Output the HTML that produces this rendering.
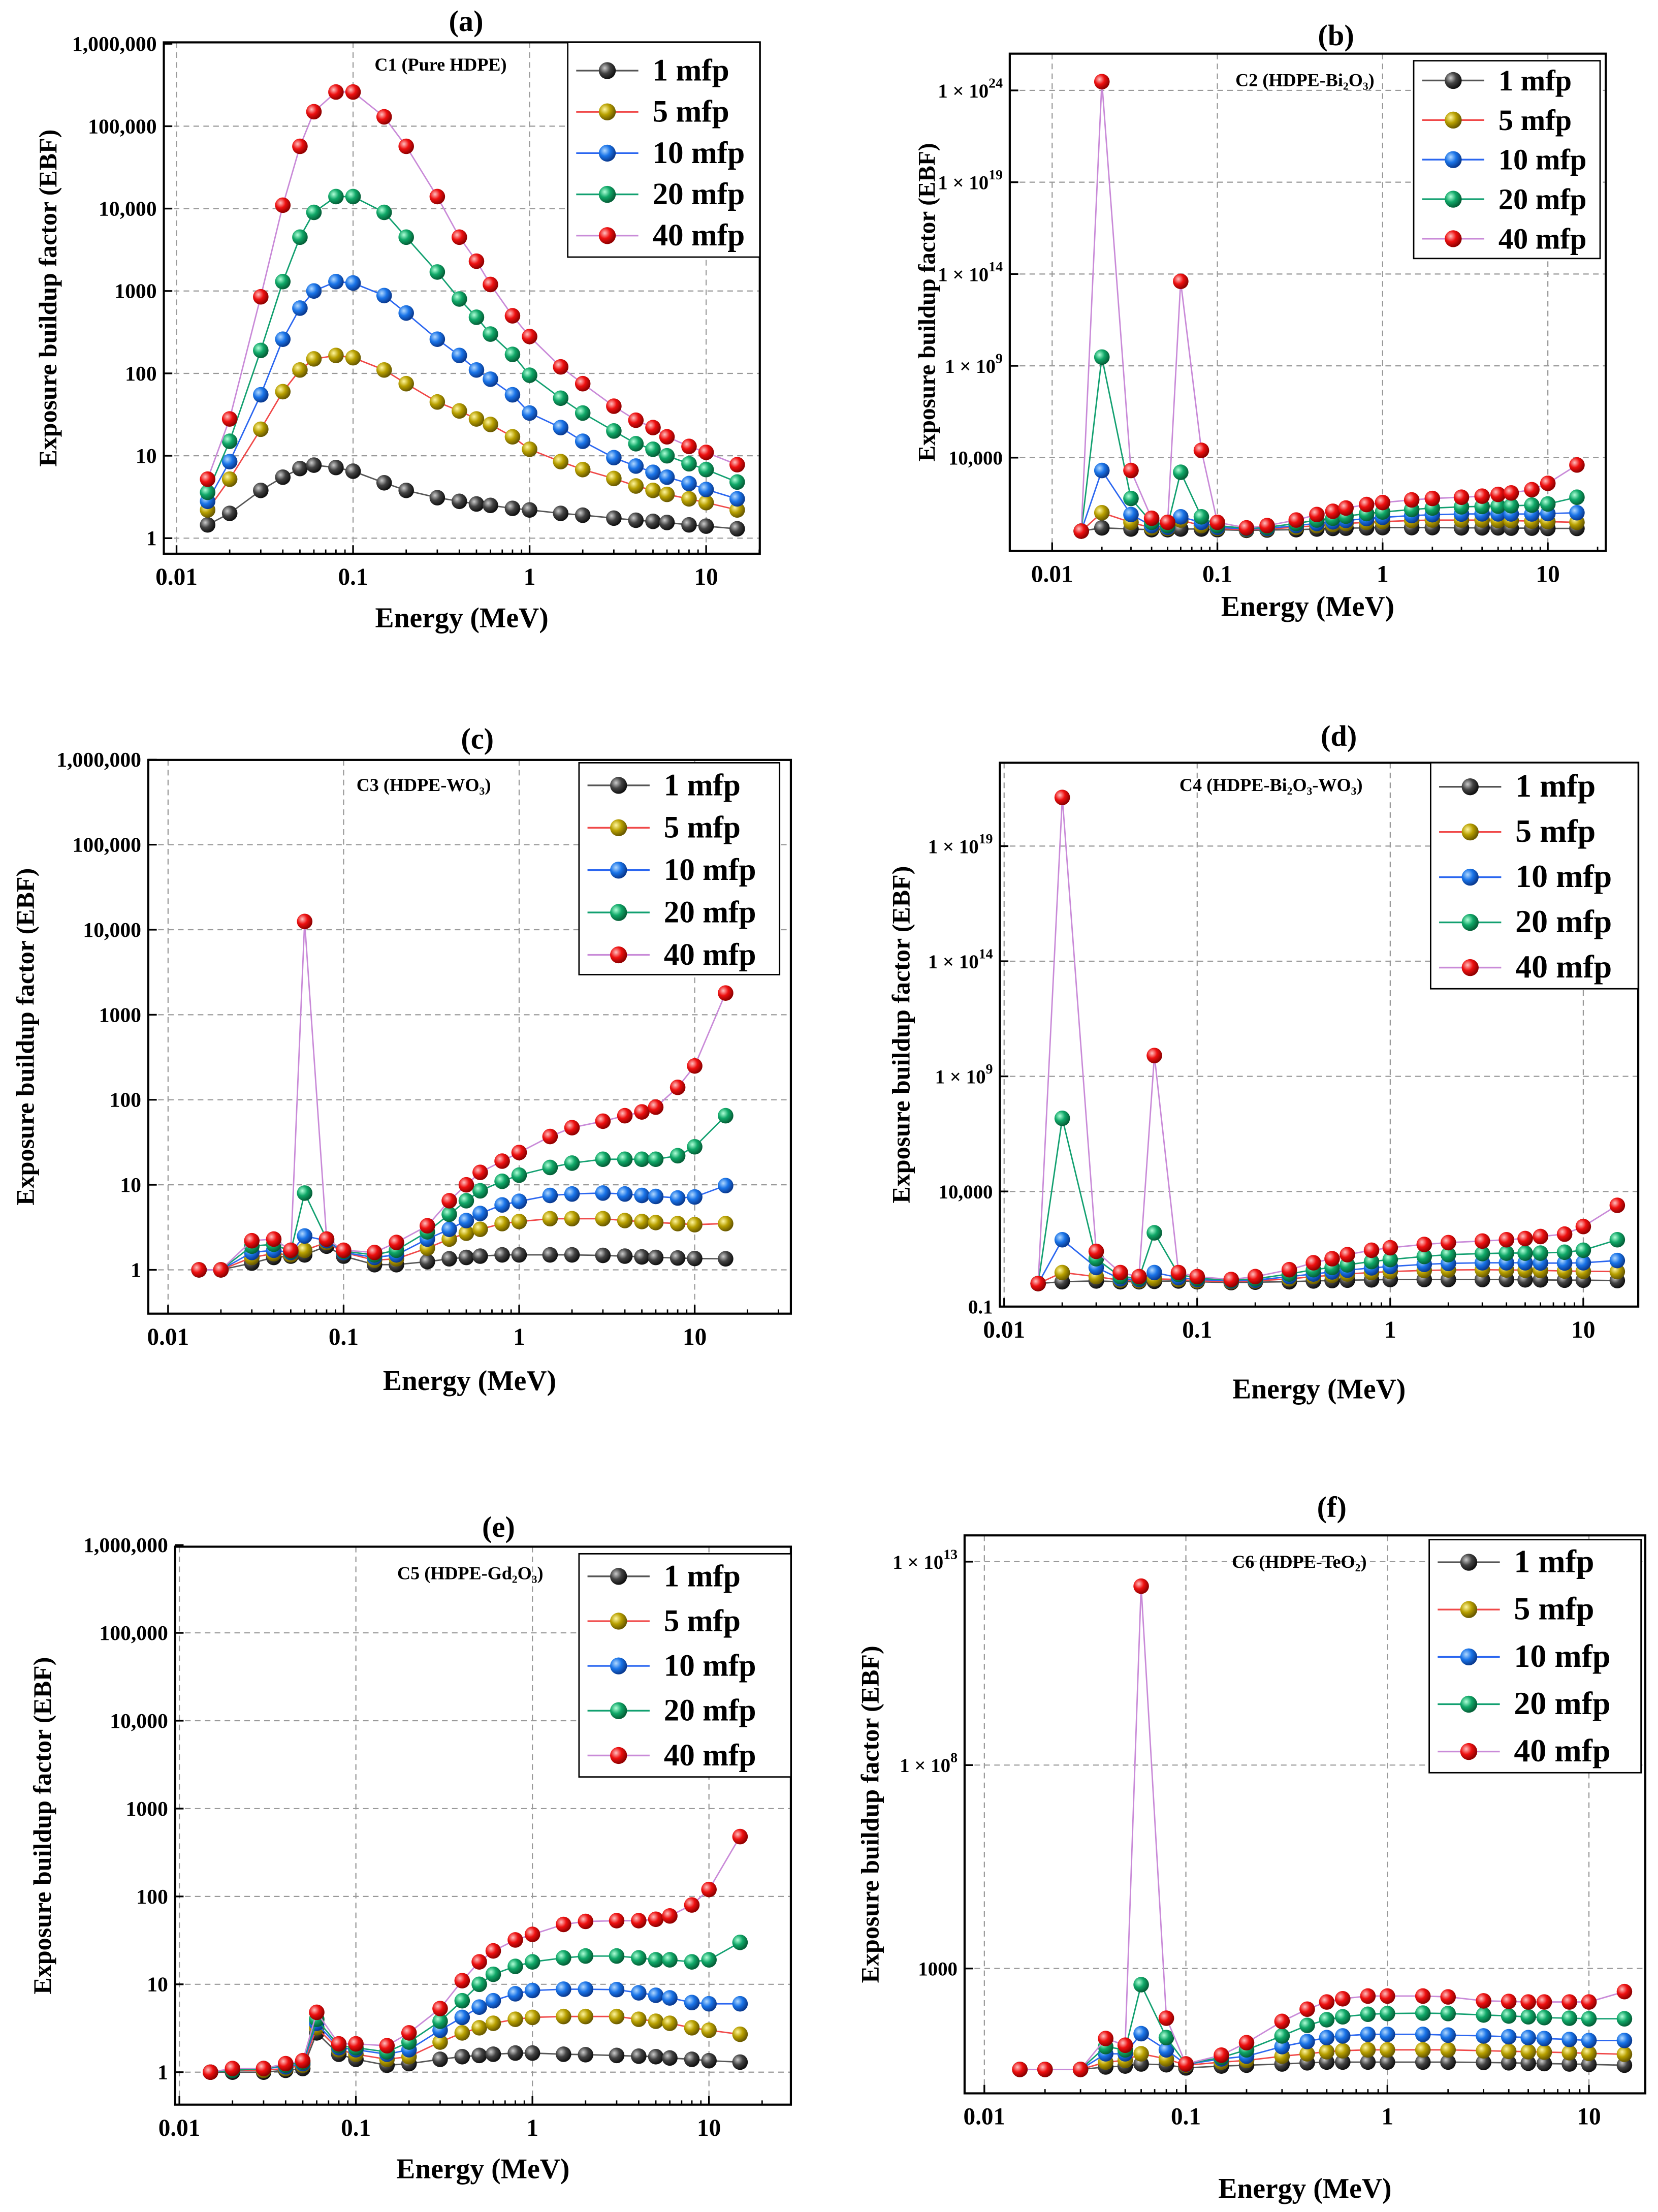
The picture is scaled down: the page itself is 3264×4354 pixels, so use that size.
<!DOCTYPE html>
<html><head><meta charset="utf-8"><style>
html,body{margin:0;padding:0;background:#fff}
svg{display:block}
text{font-family:"Liberation Serif",serif;font-weight:bold;fill:#000}
</style></head><body>
<svg id="chart" xmlns="http://www.w3.org/2000/svg" width="3264" height="4354" viewBox="0 0 1174 1566" preserveAspectRatio="none">
<defs>
<radialGradient id="g1" cx="35%" cy="35%" r="65%"><stop offset="0" stop-color="#ccc"/><stop offset="0.5" stop-color="#444"/><stop offset="1" stop-color="#111"/></radialGradient>
<radialGradient id="g5" cx="35%" cy="35%" r="65%"><stop offset="0" stop-color="#fff6a0"/><stop offset="0.5" stop-color="#b8a000"/><stop offset="1" stop-color="#6a5a00"/></radialGradient>
<radialGradient id="g10" cx="35%" cy="35%" r="65%"><stop offset="0" stop-color="#b0d8ff"/><stop offset="0.5" stop-color="#1a74e8"/><stop offset="1" stop-color="#0a3a90"/></radialGradient>
<radialGradient id="g20" cx="35%" cy="35%" r="65%"><stop offset="0" stop-color="#b0ffd8"/><stop offset="0.5" stop-color="#10a868"/><stop offset="1" stop-color="#056038"/></radialGradient>
<radialGradient id="g40" cx="35%" cy="35%" r="65%"><stop offset="0" stop-color="#ffc0c0"/><stop offset="0.5" stop-color="#ee1010"/><stop offset="1" stop-color="#900000"/></radialGradient>
</defs>
</svg>
<script>
const energies = [0.015,0.02,0.03,0.04,0.05,0.06,0.08,0.1,0.15,0.2,0.3,0.4,0.5,0.6,0.8,1,1.5,2,3,4,5,6,8,10,15];
const seriesLabels = ["1 mfp","5 mfp","10 mfp","20 mfp","40 mfp"];
const xTickValues = [0.01,0.1,1,10];
const xTickLabels = ["0.01","0.1","1","10"];

const c1_1 = [1.45,2.0,3.8,5.5,7,7.7,7.2,6.5,4.7,3.8,3.1,2.8,2.6,2.5,2.3,2.2,2.0,1.9,1.75,1.65,1.6,1.55,1.45,1.4,1.3];
const c1_5 = [2.2,5.2,21,60,110,150,165,155,110,75,45,35,28,24,17,12,8.5,6.8,5.3,4.3,3.8,3.4,3.0,2.7,2.2];
const c1_10 = [2.8,8.5,55,260,620,1000,1300,1250,880,540,260,165,110,85,55,33,22,15,9.5,7.5,6.3,5.5,4.6,3.9,3.0];
const c1_20 = [3.6,15,190,1300,4500,9000,14000,14000,9000,4500,1700,800,480,300,170,95,50,33,20,14,12,10,8,6.8,4.8];
const c1_40 = [5.2,28,850,11000,57000,150000,260000,260000,130000,57000,14000,4500,2300,1200,500,280,120,75,40,27,22,17,13,11,7.8];

const c2_1 = [1,1.5,1.3,1.2,1.2,1.3,1.3,1.2,1.1,1.15,1.2,1.3,1.4,1.45,1.5,1.55,1.55,1.55,1.5,1.5,1.5,1.45,1.45,1.4,1.4];
const c2_5 = [1,10,3,1.5,1.4,4,2,1.4,1.2,1.3,1.6,2,2.3,2.6,3,3.3,3.8,4,4,4,3.8,3.7,3.5,3.3,3];
const c2_10 = [1,2000,8,2,1.6,6,3,1.6,1.3,1.4,2,2.6,3.2,3.8,4.8,5.6,7,7.8,8.5,8.7,8.7,8.6,8.6,9,10];
const c2_20 = [1,3e9,60,3,2,1600,6,2,1.4,1.6,2.6,4,5,6.5,9,11,15,18,21,22,23,24,26,30,70];
const c2_40 = [1,3e24,2000,5,3,4e13,2.5e4,3,1.5,2,4,8,12,18,28,36,50,60,70,80,100,120,180,400,4000];

const c3_1 = [1,1,1.2,1.4,1.45,1.5,1.9,1.45,1.15,1.15,1.25,1.35,1.4,1.45,1.5,1.5,1.5,1.5,1.48,1.45,1.42,1.4,1.38,1.36,1.35];
const c3_5 = [1,1,1.4,1.55,1.5,1.7,2.1,1.6,1.3,1.35,1.8,2.3,2.7,3,3.5,3.7,4,4,4,3.8,3.7,3.6,3.5,3.4,3.5];
const c3_10 = [1,1,1.6,1.7,1.6,2.5,2.2,1.6,1.4,1.5,2.3,3,3.8,4.6,5.8,6.4,7.5,7.8,8,7.8,7.5,7.3,7,7.2,9.8];
const c3_20 = [1,1,1.9,2,1.65,8,2.3,1.65,1.5,1.7,2.8,4.5,6.5,8.5,11,13,16,18,20,20,20,20,22,28,65];
const c3_40 = [1,1,2.2,2.3,1.7,12500,2.3,1.7,1.6,2.1,3.3,6.5,10,14,19,24,37,47,56,65,72,82,140,250,1800];

const c4_1 = [1,1.2,1.3,1.2,1.2,1.25,1.3,1.2,1.1,1.15,1.2,1.3,1.35,1.4,1.45,1.5,1.5,1.5,1.5,1.5,1.45,1.45,1.4,1.4,1.35];
const c4_5 = [1,3,2,1.4,1.3,1.6,1.5,1.3,1.2,1.3,1.6,2,2.3,2.6,3,3.3,3.7,3.9,4,3.9,3.8,3.7,3.5,3.4,3.3];
const c4_10 = [1,80,5,1.6,1.5,3,1.8,1.5,1.3,1.4,2,2.6,3.2,3.8,4.8,5.5,6.8,7.5,8,8,8,7.8,7.8,8,10];
const c4_20 = [1,1.5e7,12,2,1.7,160,2.5,1.7,1.4,1.6,2.6,4,5,6.5,9,11,15,18,20,21,21,21,23,28,80];
const c4_40 = [1,1.3e21,25,3,2,8e9,3,2,1.5,2,4,8,12,18,28,36,50,60,70,80,90,110,140,300,2500];

const c5_1 = [1,1,1,1.05,1.1,2.8,1.6,1.4,1.2,1.25,1.4,1.5,1.55,1.6,1.65,1.65,1.6,1.58,1.55,1.52,1.5,1.45,1.4,1.35,1.3];
const c5_5 = [1,1.05,1.05,1.1,1.2,3.2,1.8,1.6,1.4,1.5,2.2,2.8,3.2,3.6,4,4.2,4.3,4.3,4.3,4,3.8,3.6,3.2,3,2.7];
const c5_10 = [1,1.05,1.1,1.15,1.25,3.6,1.9,1.8,1.6,1.8,3,4.2,5.5,6.5,7.8,8.5,8.8,8.8,8.7,8,7.5,7,6.2,6,6];
const c5_20 = [1,1.05,1.1,1.2,1.3,4,2,1.9,1.7,2.2,3.8,6.5,10,13,16,18,20,21,21,20,19,19,18,19,30];
const c5_40 = [1,1.1,1.1,1.25,1.35,4.8,2.1,2.1,2,2.8,5.3,11,18,24,32,37,48,52,53,53,55,60,80,120,480];

const c6_1 = [3.3,3.3,3.3,3.8,4,4.5,4.3,3.6,4,4.2,4.5,4.8,5,5,5,5,5,5,4.9,4.8,4.7,4.6,4.5,4.4,4.2];
const c6_5 = [3.3,3.3,3.3,5,5.5,8,6,4.2,5,5.5,7,8,9,9.5,10,10,10,10,9.5,9.2,9,8.8,8.5,8.2,7.8];
const c6_10 = [3.3,3.3,3.3,8,8,25,10,4.4,6,7,12,16,20,22,24,24,24,23,22,21,20,19,18,17,17];
const c6_20 = [3.3,3.3,3.3,12,10,400,20,4.5,6.5,10,22,40,55,65,75,78,80,78,72,68,65,62,60,58,58];
const c6_40 = [3.3,3.3,3.3,19,13,2.5e12,60,4.5,7.4,15,50,100,150,180,210,210,210,200,160,155,150,150,150,150,270];

const yTicksLin = [1,10,100,1000,10000,100000,1000000];
const yTicksLinLabels = ["1","10","100","1000","10,000","100,000","1,000,000"];
const yTicksB = [1e4,1e9,1e14,1e19,1e24];
const yTicksD = [0.1,1e4,1e9,1e14,1e19];
const yTicksF = [1000,1e8,1e13];

const NS="http://www.w3.org/2000/svg";
const svg=document.getElementById('chart');
function mk(tag,attrs,parent){const e=document.createElementNS(NS,tag);for(const k in attrs)e.setAttribute(k,attrs[k]);(parent||svg).appendChild(e);return e;}
const lineColors=["#555","#f04848","#2a66f0","#12a070","#c98ad8"];
const grads=["url(#g1)","url(#g5)","url(#g10)","url(#g20)","url(#g40)"];

function fmtLabel(v){
  const lg=Math.round(Math.log10(v));
  if(v>=1e8) return {sci:true,exp:lg};
  if(v<1) return {t:"0.1"};
  if(v>=1e4) return {t:v.toLocaleString("en-US")};
  return {t:String(v)};
}

const panels=[
 {key:"a",L:116,R:538,T:30,B:392,x0:125,xd:125,yAt1:381,yd:58.33,data:[c1_1,c1_5,c1_10,c1_20,c1_40],yt:yTicksLin,ytl:yTicksLinLabels,title:"(a)",tx:330,ty:22,ann:"C1 (Pure HDPE)",ax:312,ay:50,lg:{x:402,y:30,w:136,h:152,y0:50,dy:29.2,fs:22},ylx:40,xly:444},
 {key:"b",L:715,R:1137,T:38,B:390,x0:745,xd:117,yAt1:376,yd:13,data:[c2_1,c2_5,c2_10,c2_20,c2_40],yt:yTicksB,title:"(b)",tx:946,ty:32,ann:"C2 (HDPE-Bi₂O₃)",ax:924,ay:61,lg:{x:1001,y:43,w:132,h:140,y0:57,dy:28,fs:21},ylx:662,xly:436},
 {key:"c",L:105,R:560,T:538,B:930,x0:119,xd:124.3,yAt1:899,yd:60.2,data:[c3_1,c3_5,c3_10,c3_20,c3_40],yt:yTicksLin,ytl:yTicksLinLabels,title:"(c)",tx:338,ty:530,ann:"C3 (HDPE-WO₃)",ax:300,ay:560,lg:{x:410,y:540,w:142,h:150,y0:556,dy:30,fs:22},ylx:24,xly:984},
 {key:"d",L:708,R:1160,T:540,B:925,x0:711,xd:136.7,yAt1:908.7,yd:16.3,data:[c4_1,c4_5,c4_10,c4_20,c4_40],yt:yTicksD,title:"(d)",tx:948,ty:528,ann:"C4 (HDPE-Bi₂O₃-WO₃)",ax:900,ay:560,lg:{x:1013,y:540,w:147,h:160,y0:557,dy:32,fs:23},ylx:644,xly:990},
 {key:"e",L:124,R:560,T:1095,B:1490,x0:127,xd:125,yAt1:1467,yd:62.2,data:[c5_1,c5_5,c5_10,c5_20,c5_40],yt:yTicksLin,ytl:yTicksLinLabels,title:"(e)",tx:353,ty:1088,ann:"C5 (HDPE-Gd₂O₃)",ax:333,ay:1118,lg:{x:410,y:1100,w:150,h:158,y0:1116,dy:31.7,fs:22},ylx:36,xly:1542},
 {key:"f",L:683,R:1165,T:1087,B:1482,x0:697,xd:142.7,yAt1:1480,yd:28.8,data:[c6_1,c6_5,c6_10,c6_20,c6_40],yt:yTicksF,title:"(f)",tx:943,ty:1074,ann:"C6 (HDPE-TeO₂)",ax:920,ay:1110,lg:{x:1012,y:1090,w:150,h:165,y0:1106,dy:33.5,fs:23},ylx:622,xly:1556}
];

panels.forEach(p=>{
  const g=mk('g',{});
  
  
  const xs=v=>p.x0+p.xd*Math.log10(v/0.01);
  const ys=v=>p.yAt1-p.yd*Math.log10(v);
  xTickValues.forEach((v,i)=>{
    const x=xs(v);
    if(x>p.L+2&&x<p.R){const l=mk('line',{x1:x,x2:x,y1:p.T,y2:p.B,stroke:"#999","stroke-width":0.8,"stroke-dasharray":"4,3"},g);
      }
    mk('line',{x1:x,x2:x,y1:p.B,y2:p.B-6,stroke:"#000","stroke-width":1.2},g);
    for(let m=2;m<10;m++){const xm=xs(v*m);if(xm<p.R&&xm>p.L)mk('line',{x1:xm,x2:xm,y1:p.B,y2:p.B-3,stroke:"#000","stroke-width":1},g);}
    const t=mk('text',{x:x,y:p.B+22,"text-anchor":"middle","font-size":17},g);
    t.textContent=xTickLabels[i];
    
  });
  p.yt.forEach((v,i)=>{
    const y=ys(v);
    if(y>p.T+2&&y<p.B-2){const l=mk('line',{x1:p.L,x2:p.R,y1:y,y2:y,stroke:"#999","stroke-width":0.8,"stroke-dasharray":"4,3"},g);
      }
    mk('line',{x1:p.L,x2:p.L+6,y1:y,y2:y,stroke:"#000","stroke-width":1.2},g);
    const t=mk('text',{x:p.L-5,y:y+5,"text-anchor":"end","font-size":p.ytl?15:14},g);
    
    if(p.ytl){t.textContent=p.ytl[i];}
    else{const f=fmtLabel(v);
      if(f.sci){t.textContent="1 × 10";const s=mk('tspan',{dy:-7,"font-size":10},t);s.textContent=String(f.exp);}
      else t.textContent=f.t;}
  });
  const fr=mk('rect',{x:p.L,y:p.T,width:p.R-p.L,height:p.B-p.T,fill:"none",stroke:"#000","stroke-width":1.5},g);
  
  p.data.forEach((arr,si)=>{
    const sg=mk('g',{},g);
    
    
    const pts=energies.map((e,i)=>xs(e).toFixed(1)+","+ys(arr[i]).toFixed(1)).join(" ");
    mk('polyline',{points:pts,fill:"none",stroke:lineColors[si],"stroke-width":1},sg);
    energies.forEach((e,i)=>{
      const c=mk('circle',{cx:xs(e),cy:ys(arr[i]),r:5.5,fill:grads[si]},sg);
      
      
    });
  });
  const L=p.lg;
  const lgG=mk('g',{},g);
  
  
  mk('rect',{x:L.x,y:L.y,width:L.w,height:L.h,fill:"#fff",stroke:"#000","stroke-width":1},lgG);
  seriesLabels.forEach((s,si)=>{
    const y=L.y0+si*L.dy;
    const eg=mk('g',{},lgG);
    
    
    mk('line',{x1:L.x+6,x2:L.x+50,y1:y,y2:y,stroke:lineColors[si],"stroke-width":1.2},eg);
    mk('circle',{cx:L.x+28,cy:y,r:6,fill:grads[si]},eg);
    const t=mk('text',{x:L.x+60,y:y+7,"font-size":L.fs},eg);t.textContent=s;
  });
  const tt=mk('text',{x:p.tx,y:p.ty,"text-anchor":"middle","font-size":21},g);tt.textContent=p.title;
  
  const an=mk('text',{x:p.ax,y:p.ay,"text-anchor":"middle","font-size":13},g);an.textContent=p.ann;
  
  const xl=mk('text',{x:(p.L+p.R)/2,y:p.xly,"text-anchor":"middle","font-size":20},g);xl.textContent="Energy (MeV)";
  
  const cy=(p.T+p.B)/2;
  const yl=mk('text',{x:p.ylx,y:cy,"text-anchor":"middle","font-size":p.key==="b"?17:18,transform:`rotate(-90 ${p.ylx} ${cy})`},g);
  yl.textContent="Exposure  buildup factor (EBF)";
  
});
</script>
</body></html>
